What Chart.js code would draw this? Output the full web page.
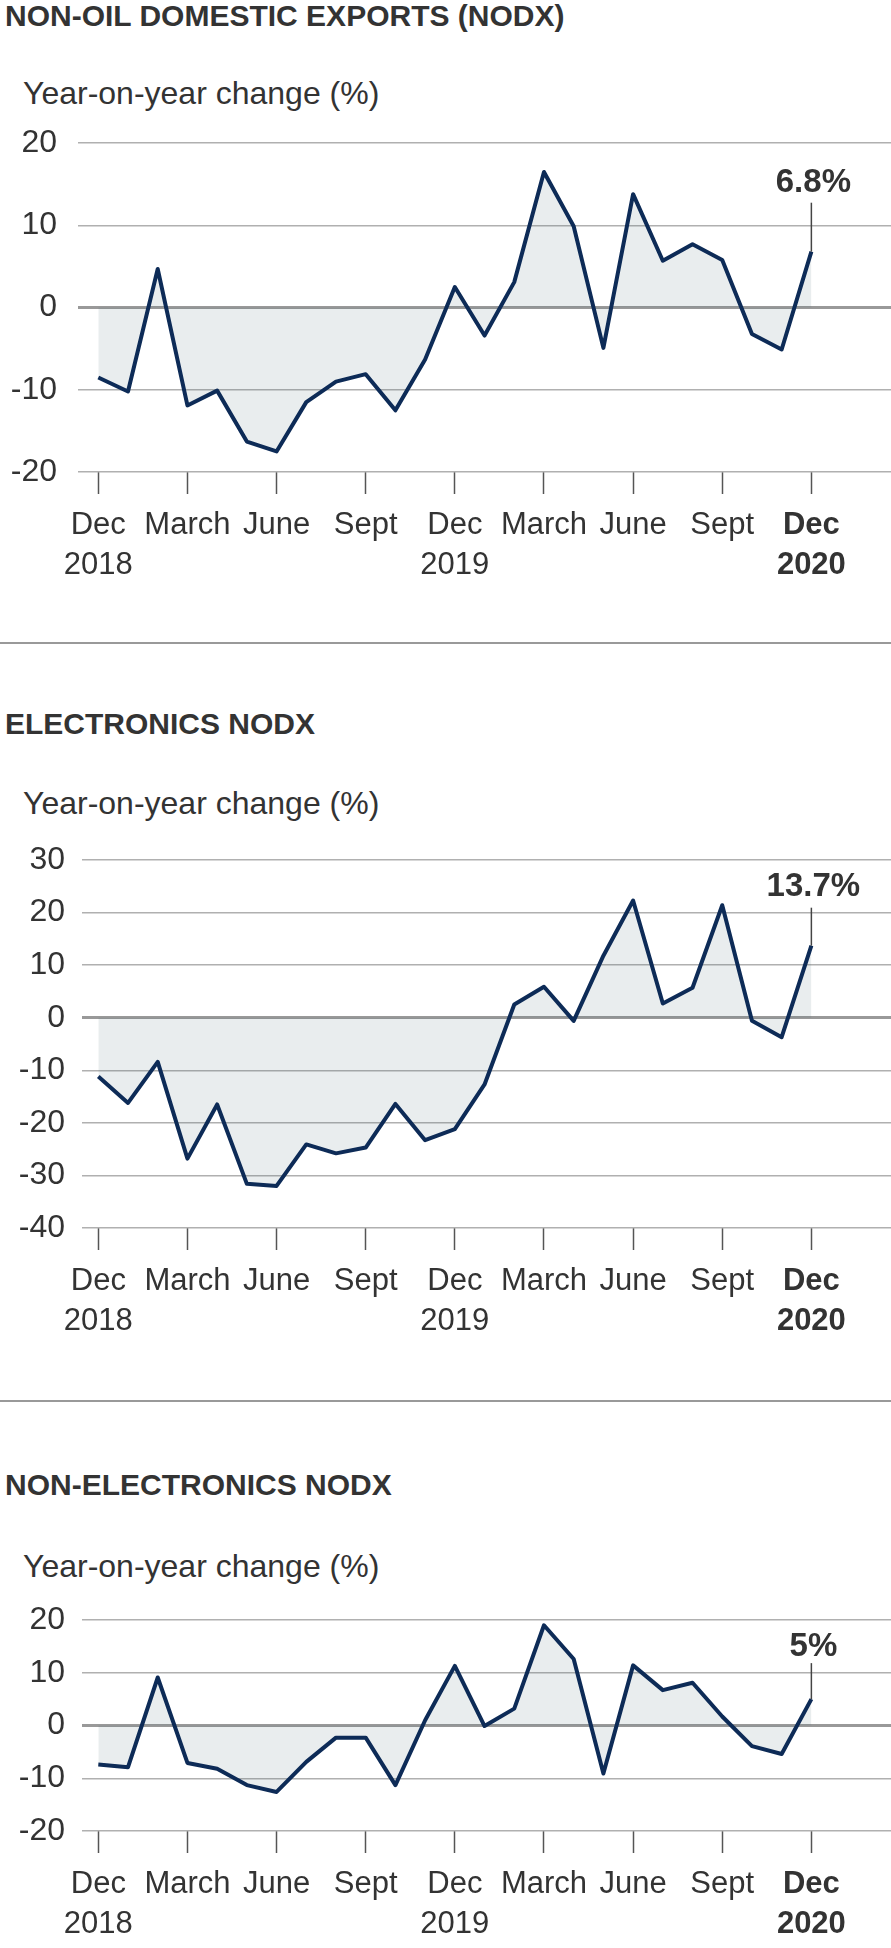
<!DOCTYPE html>
<html>
<head>
<meta charset="utf-8">
<script src="https://cdn.jsdelivr.net/npm/chart.js@4"></script>
<style>
  body { margin: 0; background: #fff; }
  #page { position: relative; width: 891px; height: 1948px; overflow: hidden; font-family: "Liberation Sans", Arial, sans-serif; color: #333; }
  .title { position: absolute; left: 5px; font-size: 30px; font-weight: bold; line-height: 1; white-space: nowrap; }
  .ytitle { position: absolute; left: 23px; font-size: 32px; line-height: 1; white-space: nowrap; }
  .sep { position: absolute; left: 0; width: 891px; height: 2px; background: #999; }
  canvas { position: absolute; left: 0; }
</style>
</head>
<body>
<div id="page">
  <div class="title" style="top:1px">NON-OIL DOMESTIC EXPORTS (NODX)</div>
  <div class="ytitle" style="top:77px">Year-on-year change (%)</div>
  <canvas id="c1" width="891" height="479" style="top:103px"></canvas>

  <div class="sep" style="top:642px"></div>

  <div class="title" style="top:709px">ELECTRONICS NODX</div>
  <div class="ytitle" style="top:787px">Year-on-year change (%)</div>
  <canvas id="c2" width="891" height="518" style="top:820px"></canvas>

  <div class="sep" style="top:1400px"></div>

  <div class="title" style="top:1470px">NON-ELECTRONICS NODX</div>
  <div class="ytitle" style="top:1550px">Year-on-year change (%)</div>
  <canvas id="c3" width="891" height="361" style="top:1580px"></canvas>
</div>
<script>
// months Dec 2018 .. Dec 2020
const months = ['Dec 2018', 'Jan 2019', 'Feb 2019', 'Mar 2019', 'Apr 2019', 'May 2019', 'Jun 2019',
    'Jul 2019', 'Aug 2019', 'Sep 2019', 'Oct 2019', 'Nov 2019', 'Dec 2019', 'Jan 2020', 'Feb 2020',
    'Mar 2020', 'Apr 2020', 'May 2020', 'Jun 2020', 'Jul 2020', 'Aug 2020', 'Sep 2020', 'Oct 2020',
    'Nov 2020', 'Dec 2020'];

const tickIndex = [0, 3, 6, 9, 12, 15, 18, 21, 24];
const tickMonth = ['Dec', 'March', 'June', 'Sept', 'Dec', 'March', 'June', 'Sept', 'Dec'];
const tickYear = ['2018', '', '', '', '2019', '', '', '', '2020'];

const nodx = [-8.5, -10.2, 4.7, -11.9, -10.1, -16.3, -17.5, -11.5, -9.0, -8.1, -12.5, -6.3,
    2.5, -3.4, 3.1, 16.5, 9.9, -4.9, 13.8, 5.7, 7.7, 5.8, -3.2, -5.1, 6.8];
const electronics = [-11.2, -16.2, -8.4, -26.8, -16.5, -31.6, -32.0, -24.1, -25.8, -24.7, -16.4, -23.3,
    -21.2, -12.7, 2.5, 5.9, -0.6, 11.8, 22.3, 2.7, 5.7, 21.4, -0.6, -3.7, 13.7];
const nonElectronics = [-7.4, -7.9, 9.1, -7.1, -8.2, -11.3, -12.6, -6.9, -2.3, -2.3, -11.3, 1.0,
    11.3, -0.1, 3.2, 19.0, 12.6, -9.1, 11.4, 6.7, 8.1, 1.7, -3.9, -5.4, 5.0];

const FONT = '"Liberation Sans", Arial, sans-serif';
const TEXT = '#333';

// vertical leader line + label over the latest point
const leaderPlugin = {
    id: 'leader',
    afterDatasetsDraw(chart, args, opts) {
        const meta = chart.getDatasetMeta(0);
        const pt = meta.data[meta.data.length - 1];
        const values = chart.data.datasets[0].data;
        const last = values[values.length - 1].y;
        const ctx = chart.ctx;
        ctx.save();
        ctx.strokeStyle = '#444';
        ctx.lineWidth = 1.5;
        ctx.beginPath();
        ctx.moveTo(pt.x, pt.y);
        ctx.lineTo(pt.x, pt.y - opts.length);
        ctx.stroke();
        ctx.fillStyle = TEXT;
        ctx.font = 'bold 33px ' + FONT;
        ctx.textAlign = 'center';
        ctx.textBaseline = 'alphabetic';
        ctx.fillText(last + '%', pt.x + 2, pt.y - opts.length - opts.gap);
        ctx.restore();
    }
};

let makeChart = (id, values, yMin, yMax, axisWidth, xMin, leader) => {
    const points = values.map((v, i) => ({ x: i, y: v }));
    return new Chart(document.getElementById(id), {
        type: 'line',
        data: {
            labels: months,
            datasets: [{
                data: points,
                borderColor: '#0d2b57',
                borderWidth: 4,
                borderJoinStyle: 'round',
                backgroundColor: 'rgba(72, 105, 113, 0.12)',
                fill: 'origin',
                pointRadius: 0,
                tension: 0
            }]
        },
        plugins: [leaderPlugin],
        options: {
            responsive: false,
            animation: false,
            events: [],
            layout: { padding: { top: 40, left: 0, right: 0, bottom: 0 } },
            plugins: {
                legend: { display: false },
                tooltip: { enabled: false },
                leader: leader
            },
            scales: {
                x: {
                    type: 'linear',
                    min: xMin,
                    max: 26.68,
                    afterBuildTicks: (scale) => {
                        scale.ticks = tickIndex.map((v) => ({ value: v }));
                    },
                    afterFit: (scale) => { scale.height = 110; },
                    border: { display: false },
                    grid: {
                        drawOnChartArea: false,
                        drawTicks: true,
                        tickLength: 22,
                        tickColor: '#555',
                        tickWidth: 1.5
                    },
                    ticks: {
                        autoSkip: false,
                        maxRotation: 0,
                        minRotation: 0,
                        padding: 11,
                        color: TEXT,
                        font: (ctx) => ({
                            family: FONT,
                            size: 31,
                            lineHeight: 1.29,
                            weight: ctx.index === tickIndex.length - 1 ? 'bold' : 'normal'
                        }),
                        callback: (value, index) => [tickMonth[index], tickYear[index]]
                    }
                },
                y: {
                    min: yMin,
                    max: yMax,
                    afterFit: (scale) => { scale.width = axisWidth; },
                    border: { display: false },
                    grid: {
                        drawTicks: false,
                        color: (ctx) => ctx.tick && ctx.tick.value === 0 ? '#999' : '#b0b0b0',
                        lineWidth: (ctx) => ctx.tick && ctx.tick.value === 0 ? 3 : 1.5
                    },
                    ticks: {
                        stepSize: 10,
                        padding: axisWidth === 78 ? 21 : 17,
                        color: TEXT,
                        font: { family: FONT, size: 32 }
                    }
                }
            }
        }
    });
};

const chart1 = makeChart('c1', nodx, -20, 20, 78, -0.683, { length: 49, gap: 11 });
const chart2 = makeChart('c2', electronics, -40, 30, 82, -0.549, { length: 38, gap: 12 });
const chart3 = makeChart('c3', nonElectronics, -20, 20, 82, -0.549, { length: 36, gap: 7 });
</script>
</body>
</html>
